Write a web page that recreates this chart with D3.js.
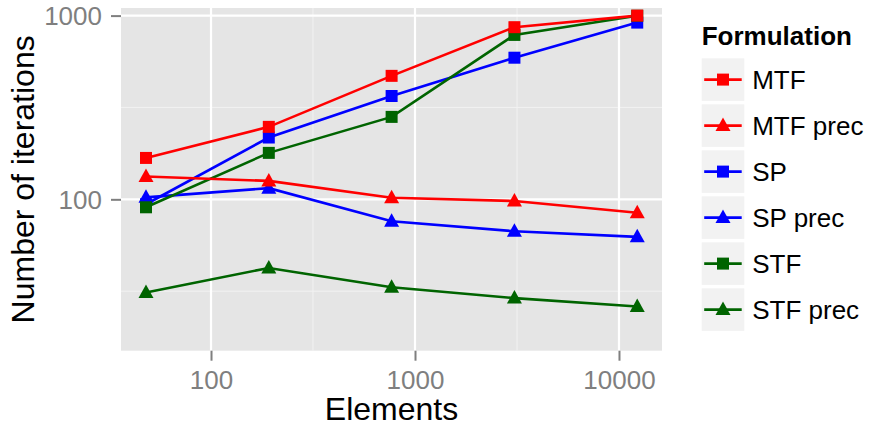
<!DOCTYPE html>
<meta charset="utf-8">
<style type="text/css">

body {
  margin: 0;
  background: #ffffff;
}

svg {
  font-family: "Liberation Sans", Arial, Helvetica, sans-serif;
}

.tick-label {
  fill: #7f7f7f;
  font-size: 26px;
}

.axis-title {
  fill: #000000;
  font-size: 32px;
}

.legend-title {
  font-weight: bold;
  font-size: 26px;
}

.legend-label {
  font-size: 26px;
}

</style>
<body>

<div id="svgContainer"></div>

<script src="https://d3js.org/d3.v7.min.js"></script>
<script>
var width = 869,
    height = 430;

// number of elements (x axis)
var elements = [48, 192, 768, 3072, 12288];

// iterations per formulation, one value per element count
var mtf     = [168, 248, 470, 865, 1000];
var mtfPrec = [133, 126, 102, 98, 84.5];
var sp      = [94, 217, 365, 590, 916];
var spPrec  = [102.5, 115, 76, 67, 62.5];
var stf     = [90.5, 179, 281, 785, 998];
var stfPrec = [31.1, 42.3, 33.2, 29.0, 26.1];

var formulations = ['MTF', 'MTF prec', 'SP', 'SP prec', 'STF', 'STF prec'];
var seriesValues = [mtf, mtfPrec, sp, spPrec, stf, stfPrec];
var seriesColors = ['#ff0000', '#ff0000', '#0000ff', '#0000ff', '#006400', '#006400'];
var seriesShapes = ['square', 'triangle', 'square', 'triangle', 'square', 'triangle'];

var xTicks = [100, 1000, 10000];
var yTicks = [100, 1000];
var xMinor = [Math.pow(10, 1.5), Math.pow(10, 2.5), Math.pow(10, 3.5)];
var yMinor = [Math.pow(10, 1.5), Math.pow(10, 2.5)];

// order the points are painted in
var drawOrder = ['SP prec', 'SP', 'STF prec', 'STF', 'MTF prec', 'MTF'];

var panel = {left: 121, right: 662, top: 8, bottom: 350.7};

var series = formulations.map(function(name, i) {
  return {
    name: name,
    color: seriesColors[i],
    shape: seriesShapes[i],
    values: elements.map(function(e, j) {
      return {x: e, y: seriesValues[i][j]};
    })
  };
});

var x = d3.scaleLog()
    .domain([36.2, 16250])
    .range([panel.left, panel.right]);

var y = d3.scaleLog()
    .domain([15.0, 1100])
    .range([panel.bottom, panel.top]);

var svg = d3.select('#svgContainer').append('svg')
    .attr('width', width)
    .attr('height', height);

// panel background + grid
svg.append('rect')
    .attr('x', panel.left)
    .attr('y', panel.top)
    .attr('width', panel.right - panel.left)
    .attr('height', panel.bottom - panel.top)
    .attr('fill', '#e5e5e5');

var grid = svg.append('g');

grid.selectAll('line.xminor')
    .data(xMinor.filter(function(d) { return x(d) > panel.left; }))
  .enter().append('line')
    .attr('x1', function(d) { return x(d); })
    .attr('x2', function(d) { return x(d); })
    .attr('y1', panel.top)
    .attr('y2', panel.bottom)
    .attr('stroke', '#f2f2f2')
    .attr('stroke-width', 1);

grid.selectAll('line.yminor')
    .data(yMinor)
  .enter().append('line')
    .attr('x1', panel.left)
    .attr('x2', panel.right)
    .attr('y1', function(d) { return y(d); })
    .attr('y2', function(d) { return y(d); })
    .attr('stroke', '#f2f2f2')
    .attr('stroke-width', 1);

grid.selectAll('line.xmajor')
    .data(xTicks)
  .enter().append('line')
    .attr('x1', function(d) { return x(d); })
    .attr('x2', function(d) { return x(d); })
    .attr('y1', panel.top)
    .attr('y2', panel.bottom)
    .attr('stroke', '#ffffff')
    .attr('stroke-width', 2.2);

grid.selectAll('line.ymajor')
    .data(yTicks)
  .enter().append('line')
    .attr('x1', panel.left)
    .attr('x2', panel.right)
    .attr('y1', function(d) { return y(d); })
    .attr('y2', function(d) { return y(d); })
    .attr('stroke', '#ffffff')
    .attr('stroke-width', 2.2);

// axes (ticks + labels, no domain line)
var xAxis = svg.append('g')
    .attr('transform', 'translate(0,' + panel.bottom + ')')
    .call(d3.axisBottom(x).tickValues(xTicks).tickFormat(d3.format('d'))
      .tickSizeInner(10).tickSizeOuter(0).tickPadding(9));

var yAxis = svg.append('g')
    .attr('transform', 'translate(' + panel.left + ',0)')
    .call(d3.axisLeft(y).tickValues(yTicks).tickFormat(d3.format('d'))
      .tickSizeInner(10).tickSizeOuter(0).tickPadding(9));

[xAxis, yAxis].forEach(function(a) {
  a.select('.domain').remove();
  a.selectAll('.tick line')
      .attr('stroke', '#7f7f7f')
      .attr('stroke-width', 2);
  a.selectAll('.tick text')
      .attr('class', 'tick-label')
      .attr('font-size', null)
      .attr('font-family', null);
});
xAxis.attr('font-size', null).attr('font-family', null);
yAxis.attr('font-size', null).attr('font-family', null);

yAxis.selectAll('.tick text').attr('dy', '0.36em');
xAxis.selectAll('.tick text').attr('dy', '0.73em');

svg.append('text')
    .attr('class', 'axis-title')
    .attr('x', (panel.left + panel.right) / 2)
    .attr('y', 420)
    .attr('text-anchor', 'middle')
    .text('Elements');

svg.append('text')
    .attr('class', 'axis-title')
    .attr('transform', 'translate(34,' + ((panel.top + panel.bottom) / 2) + ') rotate(-90)')
    .attr('text-anchor', 'middle')
    .text('Number of iterations');

// lines then points
var line = d3.line()
    .x(function(d) { return x(d.x); })
    .y(function(d) { return y(d.y); });

function symbolPath(shape) {
  if (shape === 'square') return 'M-6,-6H6V6H-6Z';
  return 'M0,-8L7.5,5.5L-7.5,5.5Z';
}

var ordered = drawOrder.map(function(name) {
  return series.filter(function(s) { return s.name === name; })[0];
});

svg.append('g').selectAll('path')
    .data(ordered)
  .enter().append('path')
    .attr('d', function(d) { return line(d.values); })
    .attr('fill', 'none')
    .attr('stroke', function(d) { return d.color; })
    .attr('stroke-width', 2.6);

var pointGroups = svg.append('g').selectAll('g')
    .data(ordered)
  .enter().append('g')
    .attr('fill', function(d) { return d.color; });

pointGroups.selectAll('path')
    .data(function(d) { return d.values.map(function(v) { return {x: v.x, y: v.y, shape: d.shape}; }); })
  .enter().append('path')
    .attr('transform', function(d) { return 'translate(' + x(d.x) + ',' + y(d.y) + ')'; })
    .attr('d', function(d) { return symbolPath(d.shape); });

// legend
var legend = svg.append('g');

legend.append('text')
    .attr('class', 'legend-title')
    .attr('x', 701.7)
    .attr('y', 45)
    .text('Formulation');

var keys = legend.selectAll('g.key')
    .data(series)
  .enter().append('g')
    .attr('transform', function(d, i) { return 'translate(701.7,' + (58.3 + i * 46) + ')'; });

keys.append('rect')
    .attr('width', 42.6)
    .attr('height', 42.6)
    .attr('fill', '#f2f2f2');

keys.append('line')
    .attr('x1', 2.5)
    .attr('x2', 40)
    .attr('y1', 21.3)
    .attr('y2', 21.3)
    .attr('stroke', function(d) { return d.color; })
    .attr('stroke-width', 2.6);

keys.append('path')
    .attr('transform', 'translate(21.3,21.3)')
    .attr('d', function(d) { return symbolPath(d.shape); })
    .attr('fill', function(d) { return d.color; });

keys.append('text')
    .attr('class', 'legend-label')
    .attr('x', 50.5)
    .attr('y', 21.3)
    .attr('dy', '0.36em')
    .text(function(d) { return d.name; });
</script>
